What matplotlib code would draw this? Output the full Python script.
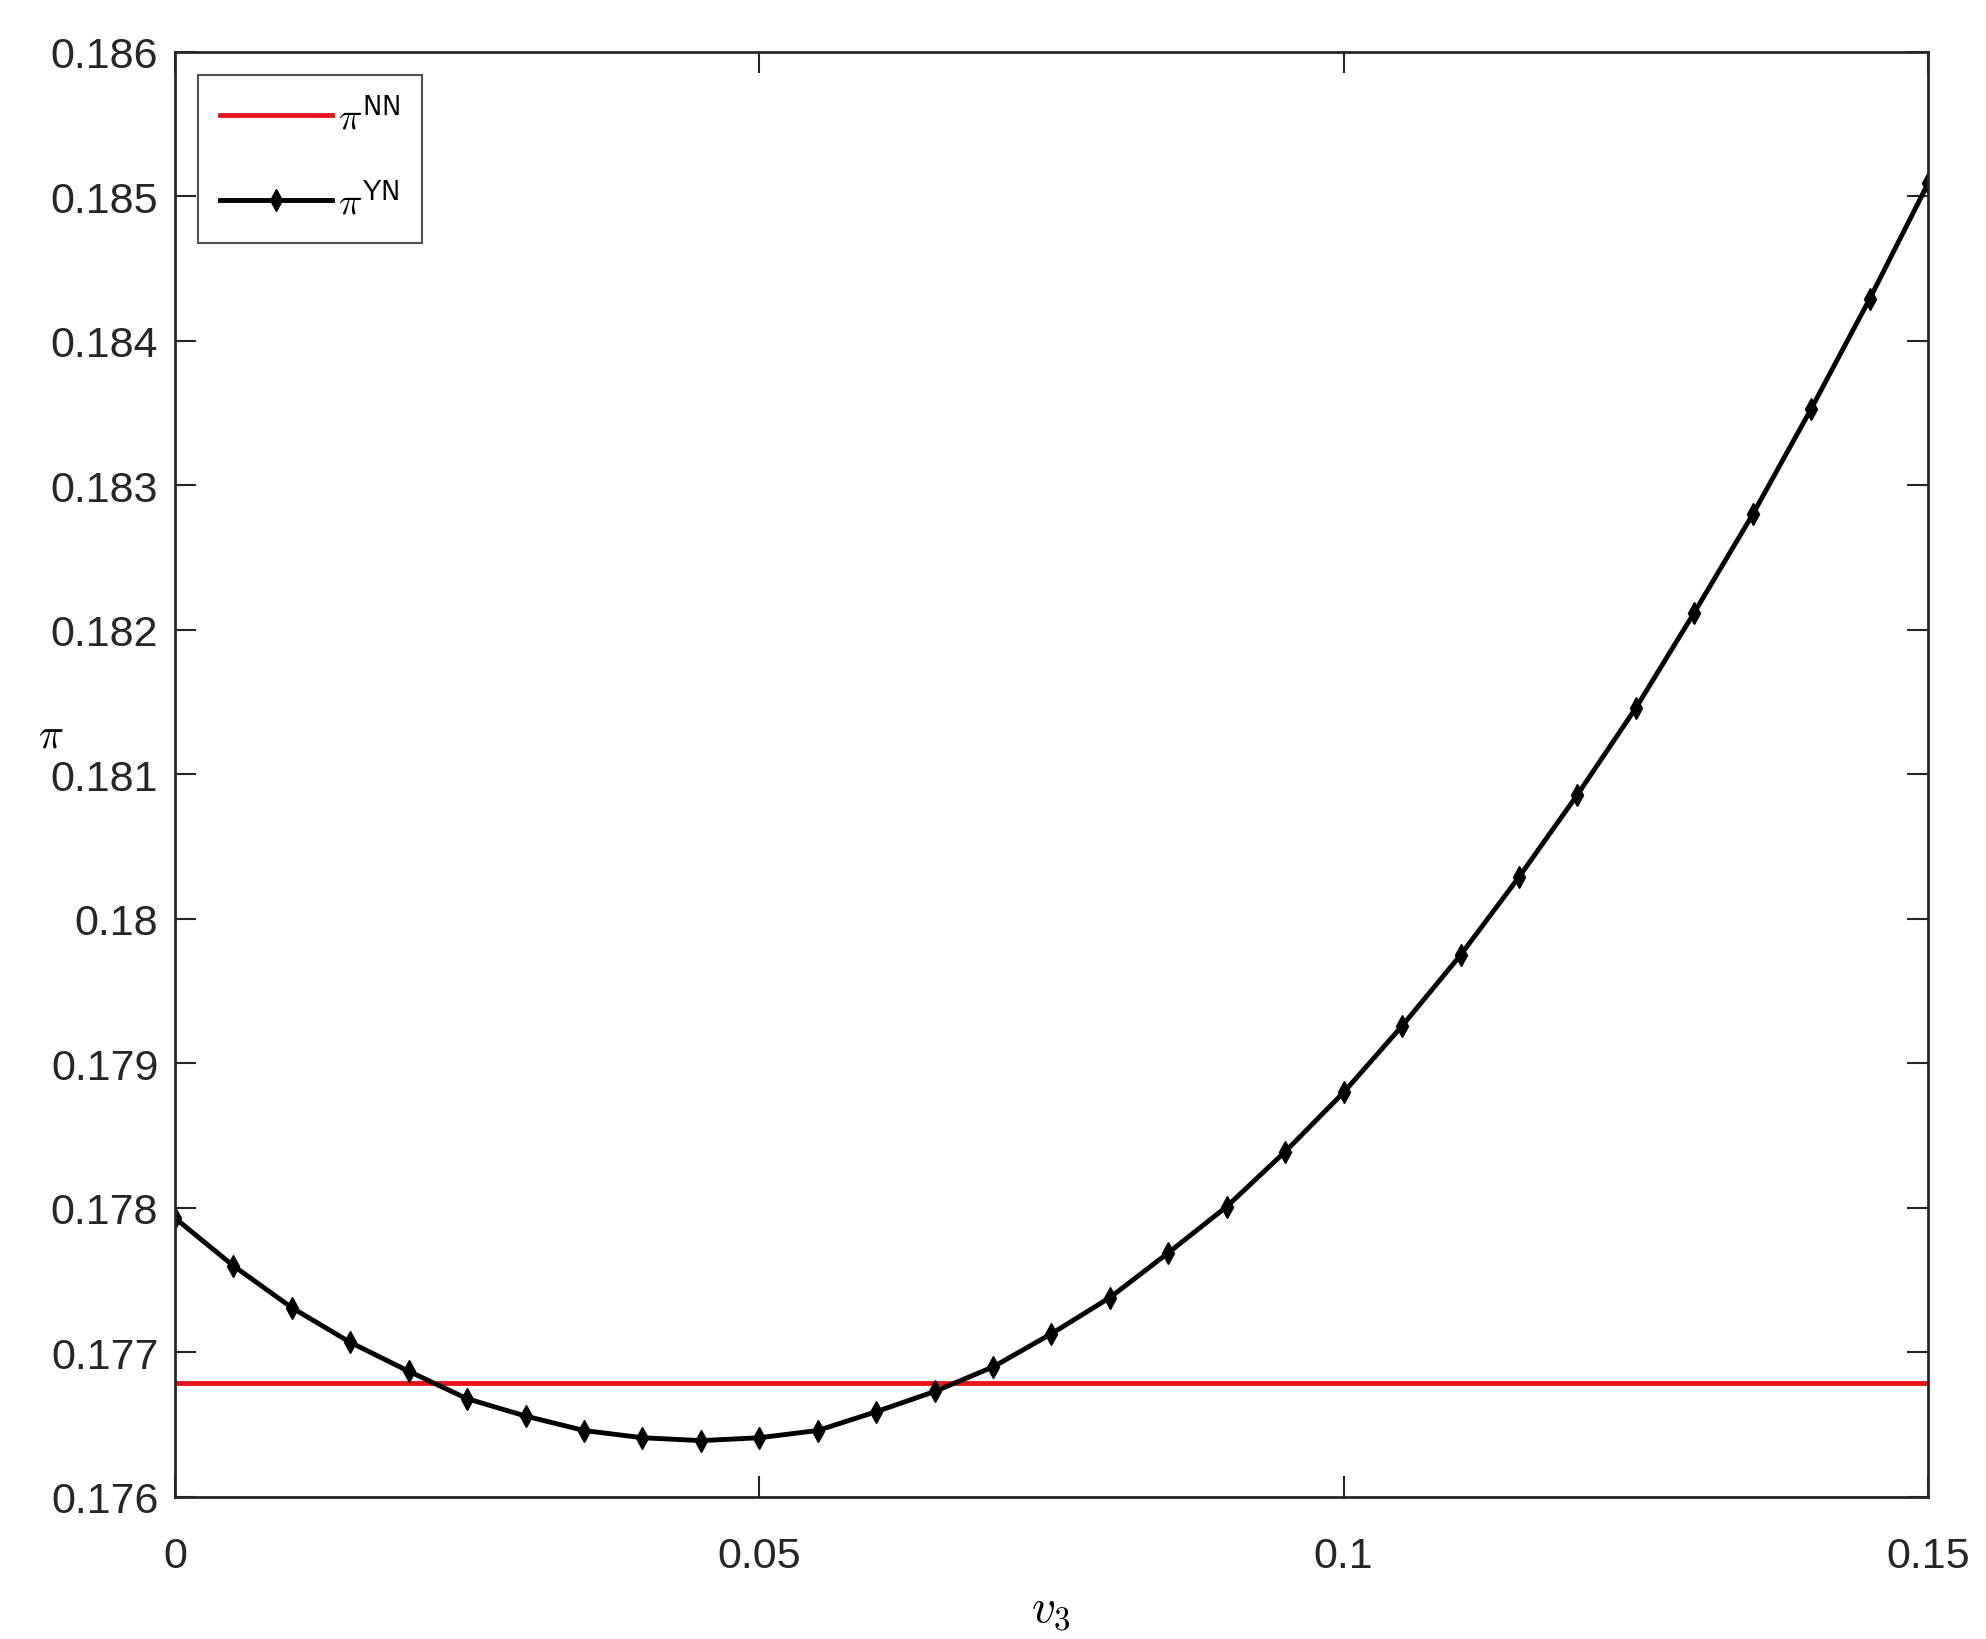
import matplotlib
matplotlib.use("Agg")
import matplotlib.pyplot as plt
import numpy as np

# Data
v3 = [0.000, 0.005, 0.010, 0.015, 0.020, 0.025, 0.030, 0.035, 0.040, 0.045,
      0.050, 0.055, 0.060, 0.065, 0.070, 0.075, 0.080, 0.085, 0.090, 0.095,
      0.100, 0.105, 0.110, 0.115, 0.120, 0.125, 0.130, 0.135, 0.140, 0.145, 0.150]
pi_YN = [0.17793, 0.17760, 0.17731, 0.17707, 0.17687, 0.17668, 0.17656, 0.17646,
         0.17641, 0.17639, 0.17641, 0.17646, 0.17659, 0.17673, 0.17690, 0.17713,
         0.17738, 0.17769, 0.17801, 0.17839, 0.17880, 0.17926, 0.17975, 0.18029,
         0.18086, 0.18146, 0.18212, 0.18280, 0.18353, 0.18429, 0.18509]
pi_NN = 0.17679

xticks = [0, 0.05, 0.1, 0.15]
xticklabels = ["0", "0.05", "0.1", "0.15"]
yticks = [0.176, 0.177, 0.178, 0.179, 0.180, 0.181, 0.182, 0.183, 0.184, 0.185, 0.186]
yticklabels = ["0.176", "0.177", "0.178", "0.179", "0.18", "0.181", "0.182",
               "0.183", "0.184", "0.185", "0.186"]

plt.rcParams['font.family'] = ['Liberation Sans', 'DejaVu Sans']
plt.rcParams['mathtext.fontset'] = 'cm'

fig = plt.figure(figsize=(19.86, 16.4), dpi=100)
ax = fig.add_axes([0.0881, 0.0866, 0.9708 - 0.0881, 0.9677 - 0.0866])

ax.plot([v3[0], v3[-1]], [pi_NN, pi_NN], color='#e8141c', lw=3.5,
        label=r'$\pi^{\mathsf{NN}}$')
ax.plot(v3, pi_YN, color='black', lw=3.5, marker='d', markersize=11,
        markerfacecolor='black', label=r'$\pi^{\mathsf{YN}}$')

ax.set_xlim(0, 0.15)
ax.set_ylim(0.176, 0.186)
ax.set_xticks(xticks)
ax.set_xticklabels(xticklabels)
ax.set_yticks(yticks)
ax.set_yticklabels(yticklabels)
ax.tick_params(direction='in', length=15, width=1.5, top=True, right=True,
               labelsize=31, colors='#262626')
ax.tick_params(axis='x', pad=28)
ax.tick_params(axis='y', pad=12)
for s in ax.spines.values():
    s.set_linewidth(2)
    s.set_color('#262626')

ax.set_xlabel(r'$v_3$', fontsize=34, labelpad=8)
ax.set_ylabel(r'$\pi$', fontsize=30, rotation=0, va='center', ha='center')
ax.yaxis.set_label_coords(-0.071, 0.527)

leg = ax.legend(loc='upper left', fontsize=28, frameon=True, fancybox=False,
                edgecolor='#262626', handlelength=2.9, borderpad=0.55,
                labelspacing=1.15, handletextpad=0.15, borderaxespad=0.6)
leg.get_frame().set_linewidth(1.5)

fig.savefig('out.png', dpi=100)
